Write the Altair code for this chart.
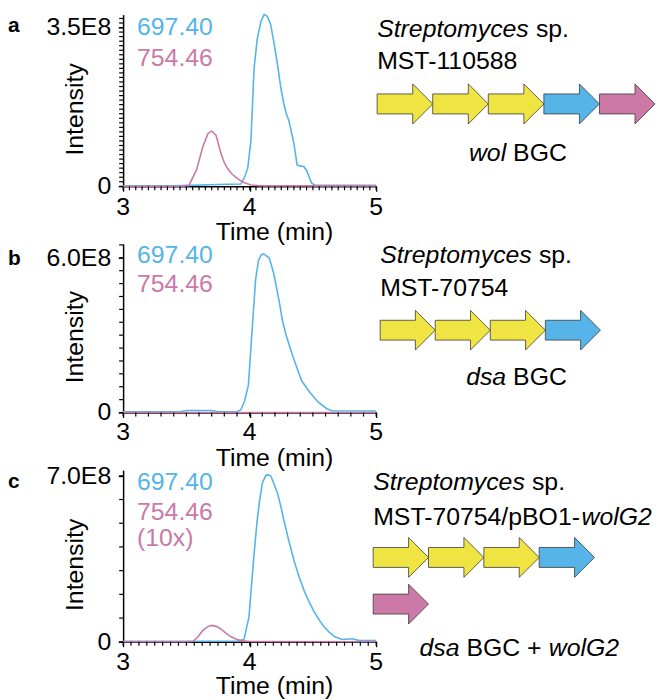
import altair as alt
import pandas as pd

FONT = "Liberation Sans"
BLUE = "#56B4E9"
PINK = "#CC79A7"
YELLOW = "#F0E442"

SERIES = ["697.40", "754.46"]
PANEL_LETTERS = ["a", "b", "c"]
Y_TOP = [3.5, 6.0, 7.0]
Y_TOP_LABEL = ["3.5E8", "6.0E8", "7.0E8"]
X_LABELS = [3, 4, 5]

# panel a (intensity in units of 1E8)
A_T_BLUE = [3.0, 3.4, 3.75, 3.93, 3.96, 3.985, 4.01, 4.035, 4.06, 4.09, 4.115, 4.14, 4.166, 4.19, 4.22,
            4.245, 4.27, 4.29, 4.31, 4.33, 4.35, 4.375, 4.40, 4.43, 4.45, 4.47, 4.49, 4.52, 5.0]
A_V_BLUE = [0.01, 0.01, 0.04, 0.05, 0.2, 0.4, 1.0, 2.6, 3.25, 3.64, 3.79, 3.75, 3.57, 3.2, 2.69,
            2.2, 1.82, 1.6, 1.45, 1.2, 0.94, 0.47, 0.45, 0.43, 0.35, 0.21, 0.07, 0.02, 0.02]
A_T_PINK = [3.0, 3.45, 3.52, 3.58, 3.63, 3.67, 3.70, 3.735, 3.774, 3.80, 3.826, 3.86, 3.904, 3.95, 4.01, 4.1, 5.0]
A_V_PINK = [0.0, 0.0, 0.02, 0.36, 0.87, 1.16, 1.22, 1.12, 0.72, 0.52, 0.39, 0.27, 0.17, 0.09, 0.03, 0.01, 0.01]

# panel b
B_T_BLUE = [3.0, 3.45, 3.5, 3.6, 3.7, 3.75, 3.9, 3.93, 3.96, 3.99, 4.02, 4.047, 4.07, 4.09, 4.11, 4.13,
            4.154, 4.17, 4.19, 4.21, 4.235, 4.26, 4.29, 4.34, 4.41, 4.475, 4.54, 4.61, 4.65, 5.0]
B_V_BLUE = [0.03, 0.03, 0.08, 0.08, 0.08, 0.03, 0.04, 0.1, 0.45, 1.05, 3.23, 5.15, 5.9, 6.1, 6.15, 6.08,
            5.99, 5.75, 5.4, 4.9, 4.27, 3.55, 2.97, 2.2, 1.24, 0.79, 0.41, 0.15, 0.07, 0.06]
B_T_PINK = [3.0, 5.0]
B_V_PINK = [0.0, 0.0]

# panel c
C_T_BLUE = [3.0, 3.5, 3.9, 3.955, 3.995, 4.02, 4.04, 4.06, 4.08, 4.10, 4.128, 4.15, 4.168, 4.19, 4.22,
            4.245, 4.27, 4.31, 4.35, 4.39, 4.43, 4.47, 4.51, 4.55, 4.59, 4.63, 4.67, 4.73, 4.78, 4.82, 4.86, 5.0]
C_V_BLUE = [0.02, 0.02, 0.03, 0.1, 1.05, 2.74, 4.0, 5.14, 6.0, 6.69, 7.02, 7.04, 6.98, 6.7, 6.27,
            5.75, 5.14, 4.25, 3.44, 2.75, 2.17, 1.68, 1.26, 0.92, 0.62, 0.4, 0.22, 0.1, 0.12, 0.12, 0.06, 0.05]
C_T_PINK = [3.0, 3.5, 3.555, 3.59, 3.63, 3.67, 3.70, 3.735, 3.77, 3.81, 3.85, 3.89, 3.93, 4.0, 5.0]
C_V_PINK = [0.0, 0.0, 0.02, 0.2, 0.48, 0.64, 0.69, 0.65, 0.55, 0.38, 0.22, 0.12, 0.05, 0.01, 0.0]

# gene clusters
A_GENES = ["core", "core", "core", "blue", "pink"]
A_SLOT = [0, 1, 2, 3, 4]
A_LANE = [0, 0, 0, 0, 0]
B_GENES = ["core", "core", "core", "blue"]
B_SLOT = [0, 1, 2, 3]
B_LANE = [0, 0, 0, 0]
C_GENES = ["core", "core", "core", "blue", "pink"]
C_SLOT = [0, 1, 2, 3, 0]
C_LANE = [0, 0, 0, 0, 1]

ARROW_PATH = "M-1,-0.36L0.28,-0.36L0.28,-0.72L1,0L0.28,0.72L0.28,0.36L-1,0.36Z"


def lines_df(tb, vb, tp, vp):
    return pd.DataFrame({
        "t": tb + tp,
        "v": vb + vp,
        "series": [SERIES[0]] * len(tb) + [SERIES[1]] * len(tp),
    })


def genes_df(genes, slots, lanes):
    return pd.DataFrame({"cls": genes, "mid": [s + 0.5 for s in slots], "lane": lanes})


def T(s, x, y, size=25, color="black", italic=False, bold=False, align="left",
      baseline="alphabetic", angle=None):
    kw = dict(fontSize=size, color=color, align=align, baseline=baseline, font=FONT)
    if italic:
        kw["fontStyle"] = "italic"
    if bold:
        kw["fontWeight"] = "bold"
    if angle is not None:
        kw["angle"] = angle
    return alt.Chart(alt.Data(values=[{"s": s}])).mark_text(**kw).encode(
        text="s:N", x=alt.value(x), y=alt.value(y))


W = 255


def chrom(df, H, ymax, ytop, ytoplabel, ystep, xstep, xlab_y=9):
    xs = alt.Scale(domain=[3, 5], nice=False, zero=False)
    ys = alt.Scale(domain=[0, ymax], nice=False)
    ax = dict(title=None, grid=False, domain=True, ticks=True, tickSize=5, labels=False,
              tickColor="black", tickWidth=1.2, domainColor="black", domainWidth=1.5)
    lines = alt.Chart(df).mark_line(strokeWidth=1.6).encode(
        x=alt.X("t:Q", scale=xs, axis=alt.Axis(values=X_LABELS, **ax)),
        y=alt.Y("v:Q", scale=ys, axis=alt.Axis(values=[0, ytop], **ax)),
        color=alt.Color("series:N", scale=alt.Scale(domain=SERIES, range=[BLUE, PINK]), legend=None),
    ).properties(width=W, height=H)
    # minor tick marks
    ny = int(round(ymax / ystep)) + 1
    yvals = [round(i * ystep, 4) for i in range(ny) if i * ystep <= ymax + 1e-9]
    nx = int(round(2 / xstep)) + 1
    xvals = [round(3 + i * xstep, 4) for i in range(nx)]
    yt = alt.Chart(pd.DataFrame({"v": yvals})).mark_rule(color="black", strokeWidth=1.2).encode(
        y=alt.Y("v:Q", scale=ys, axis=None), x=alt.value(-4), x2=alt.value(0))
    xt = alt.Chart(pd.DataFrame({"t": xvals})).mark_rule(color="black", strokeWidth=1.2).encode(
        x=alt.X("t:Q", scale=xs, axis=None), y=alt.value(H), y2=alt.value(H + 4))
    # tick labels
    ylab = alt.Chart(pd.DataFrame({"v": [0, ytop], "lab": ["0", ytoplabel]})).mark_text(
        align="right", baseline="middle", fontSize=25, font=FONT, color="black").encode(
        y=alt.Y("v:Q", scale=ys, axis=None), x=alt.value(-12), text="lab:N")
    xlab = alt.Chart(pd.DataFrame({"t": X_LABELS})).mark_text(
        align="center", baseline="top", fontSize=25, font=FONT, color="black").encode(
        x=alt.X("t:Q", scale=xs, axis=None), y=alt.value(H + xlab_y), text="t:N")
    return [lines, yt, xt, ylab, xlab]


def arrows(gdf, n, x0, x1, y0, y1, size):
    return alt.Chart(gdf).mark_point(shape=ARROW_PATH, filled=True, size=size, opacity=1,
                                     stroke="#3a3a3a", strokeWidth=0.8).encode(
        x=alt.X("mid:Q", scale=alt.Scale(domain=[0, n], range=[x0, x1], nice=False, zero=False), axis=None),
        y=alt.Y("lane:Q", scale=alt.Scale(domain=[0, 1], range=[y0, y1], nice=False), axis=None),
        fill=alt.Fill("cls:N", scale=alt.Scale(domain=["core", "blue", "pink"],
                                               range=[YELLOW, BLUE, PINK]), legend=None),
    )


def common(H, letter, letter_y, legend_items, tb_y):
    layers = [T(letter, -116, letter_y, size=21, bold=True, baseline="top"),
              T("Intensity", -48, H / 2 + 9, angle=270, align="center", baseline="middle"),
              T("Time (min)", W / 2 + 25, H + tb_y, align="center")]
    for s, c, y in legend_items:
        layers.append(T(s, 14, y, color=c))
    return layers


# Row a
HA = 173
rowA = alt.layer(
    *chrom(lines_df(A_T_BLUE, A_V_BLUE, A_T_PINK, A_V_PINK), HA, 3.785, Y_TOP[0], Y_TOP_LABEL[0], 0.1, 0.05),
    arrows(genes_df(A_GENES, A_SLOT, A_LANE), 5, 256, 536, 90, 137, 3136),
    *common(HA, PANEL_LETTERS[0], 1, [(SERIES[0], BLUE, 21), (SERIES[1], PINK, 52)], 54),
    T("Streptomyces", 256, 23, italic=True), T("sp.", 416, 23),
    T("MST-110588", 256, 55),
    T("wol", 386, 148, italic=True, align="right"), T("BGC", 393, 148),
).resolve_scale(x="independent", y="independent")

# Row b
HB = 170
rowB = alt.layer(
    *chrom(lines_df(B_T_BLUE, B_V_BLUE, B_T_PINK, B_V_PINK), HB, 6.54, Y_TOP[1], Y_TOP_LABEL[1], 0.5, 0.1, 8),
    arrows(genes_df(B_GENES, B_SLOT, B_LANE), 4, 259, 481, 87, 134, 3080),
    *common(HB, PANEL_LETTERS[1], 4, [(SERIES[0], BLUE, 19), (SERIES[1], PINK, 49)], 54),
    T("Streptomyces", 259, 19, italic=True), T("sp.", 419, 19),
    T("MST-70754", 259, 53),
    T("dsa", 386, 142, italic=True, align="right"), T("BGC", 393, 142),
).resolve_scale(x="independent", y="independent")

# Row c
HC = 173
rowC = alt.layer(
    *chrom(lines_df(C_T_BLUE, C_V_BLUE, C_T_PINK, C_V_PINK), HC, 7.24, Y_TOP[2], Y_TOP_LABEL[2], 1.0, 0.0625, 8),
    arrows(genes_df(C_GENES, C_SLOT, C_LANE), 4, 252, 475, 88, 135, 3108),
    *common(HC, PANEL_LETTERS[2], 1, [(SERIES[0], BLUE, 20), (SERIES[1], PINK, 50), ("(10x)", PINK, 76)], 53),
    T("Streptomyces", 252, 20, italic=True), T("sp.", 412, 20),
    T("MST-70754/pBO1-", 252, 55), T("wolG2", 462, 55, italic=True),
    T("dsa", 339, 187, italic=True, align="right"), T("BGC +", 346, 187), T("wolG2", 429, 187, italic=True),
).resolve_scale(x="independent", y="independent")

chart = alt.vconcat(rowA, rowB, rowC, spacing=58, bounds="flush").properties(
    padding=0
).configure(font=FONT).configure_view(stroke=None)

chart.save("out.html", embed_options={"renderer": "svg", "actions": False})
